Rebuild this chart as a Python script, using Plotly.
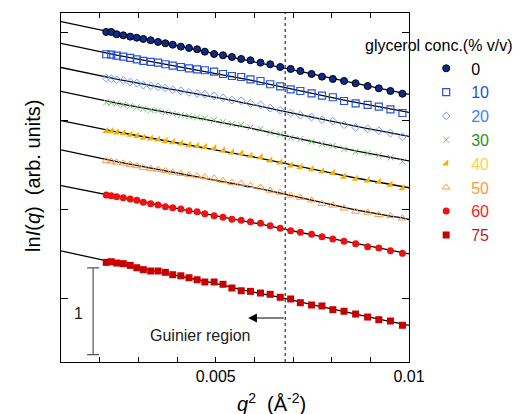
import numpy as np
import plotly.graph_objects as go

# q^2 values (Å^-2) shared by all series
Q2 = [0.00217, 0.00230, 0.00244, 0.00261, 0.00279, 0.00296, 0.00313, 0.00332, 0.00351,
      0.00370, 0.00389, 0.00410, 0.00431, 0.00452, 0.00472, 0.00496, 0.00519, 0.00542,
      0.00566, 0.00590, 0.00616, 0.00641, 0.00667, 0.00694, 0.00719, 0.00748, 0.00775,
      0.00803, 0.00832, 0.00862, 0.00893, 0.00922, 0.00952, 0.00983]

CONCENTRATIONS = ["0", "10", "20", "30", "40", "50", "60", "75"]

LN_I_0 = [3.006, 3.006, 2.980, 2.968, 2.953, 2.941, 2.927, 2.912, 2.893, 2.878, 2.862, 2.840,
          2.825, 2.810, 2.783, 2.757, 2.742, 2.723, 2.701, 2.686, 2.659, 2.641, 2.610, 2.588,
          2.565, 2.531, 2.501, 2.475, 2.452, 2.426, 2.395, 2.369, 2.339, 2.308]
LN_I_10 = [2.754, 2.750, 2.738, 2.727, 2.712, 2.697, 2.678, 2.667, 2.659, 2.641, 2.625, 2.610,
           2.595, 2.584, 2.573, 2.557, 2.531, 2.508, 2.497, 2.471, 2.452, 2.415, 2.392, 2.358,
           2.339, 2.313, 2.286, 2.268, 2.226, 2.200, 2.181, 2.162, 2.132, 2.090]
LN_I_20 = [2.483, 2.477, 2.466, 2.457, 2.440, 2.428, 2.405, 2.397, 2.386, 2.372, 2.353, 2.340,
           2.323, 2.311, 2.303, 2.283, 2.262, 2.236, 2.228, 2.198, 2.182, 2.145, 2.122, 2.090,
           2.066, 2.044, 2.014, 1.998, 1.957, 1.928, 1.912, 1.890, 1.863, 1.822]
LN_I_30 = [2.211, 2.205, 2.196, 2.182, 2.170, 2.153, 2.136, 2.122, 2.117, 2.097, 2.083, 2.066,
           2.053, 2.040, 2.031, 2.012, 1.990, 1.964, 1.955, 1.926, 1.910, 1.869, 1.849, 1.812,
           1.795, 1.766, 1.741, 1.720, 1.680, 1.652, 1.636, 1.612, 1.587, 1.540]
LN_I_40 = [1.887, 1.885, 1.871, 1.862, 1.846, 1.832, 1.812, 1.803, 1.792, 1.776, 1.760, 1.746,
           1.728, 1.719, 1.708, 1.692, 1.668, 1.644, 1.634, 1.608, 1.590, 1.555, 1.532, 1.498,
           1.480, 1.455, 1.430, 1.414, 1.372, 1.348, 1.330, 1.311, 1.282, 1.240]
LN_I_50 = [1.548, 1.544, 1.532, 1.522, 1.506, 1.492, 1.473, 1.462, 1.452, 1.436, 1.420, 1.405,
           1.390, 1.378, 1.368, 1.352, 1.327, 1.304, 1.294, 1.268, 1.250, 1.215, 1.192, 1.160,
           1.135, 1.105, 1.065, 1.047, 1.014, 0.978, 0.966, 0.940, 0.928, 0.901]
LN_I_60 = [1.164, 1.156, 1.145, 1.133, 1.119, 1.104, 1.081, 1.066, 1.051, 1.032, 1.020, 1.006,
           0.986, 0.975, 0.953, 0.930, 0.912, 0.889, 0.878, 0.862, 0.844, 0.817, 0.788, 0.760,
           0.742, 0.720, 0.693, 0.667, 0.641, 0.614, 0.580, 0.565, 0.534, 0.505]
LN_I_75 = [0.403, 0.410, 0.395, 0.388, 0.369, 0.342, 0.320, 0.305, 0.305, 0.290, 0.263, 0.251,
           0.229, 0.206, 0.181, 0.181, 0.155, 0.113, 0.082, 0.075, 0.056, 0.042, 0.008, -0.011,
           -0.053, -0.079, -0.090, -0.132, -0.150, -0.181, -0.215, -0.245, -0.260, -0.308]

SERIES = [LN_I_0, LN_I_10, LN_I_20, LN_I_30, LN_I_40, LN_I_50, LN_I_60, LN_I_75]

Q2_RANGE = [0.001, 0.01]
X_MAJOR_TICKS = [0.005, 0.01]
X_MAJOR_LABELS = ["0.005", "0.01"]
X_MINOR_TICKS = [0.002, 0.003, 0.004, 0.006, 0.007, 0.008, 0.009]
Y_TICKS = [0, 1, 2, 3]
GUINIER_LIMIT = 0.0068
SCALE_BAR_X = 0.00183
SCALE_BAR_Y = [-0.64, 0.34]

MARKER_STYLES = [
    dict(symbol="circle", color="#0b2a8c", size=7, line=dict(color="#000000", width=1)),
    dict(symbol="square-open", color="#2452e0", size=7, line=dict(width=1.2)),
    dict(symbol="diamond-open", color="#6f9cff", size=6, line=dict(width=1)),
    dict(symbol="x-thin-open", color="#6cbf6c", size=6, line=dict(width=1, color="#6cbf6c")),
    dict(symbol="triangle-se", color="#f5b000", size=7, line=dict(width=0)),
    dict(symbol="triangle-up-open", color="#ff9a40", size=7, line=dict(width=1)),
    dict(symbol="circle", color="#ee1111", size=7, line=dict(width=0)),
    dict(symbol="square", color="#c80000", size=7, line=dict(width=0)),
]
TEXT_COLORS = ["#000000", "#1a53e0", "#3d7fff", "#2a912a", "#ffd23c", "#ff9a33", "#ff1a1a", "#c41a1a"]

FONT = "Liberation Sans, Arial, Helvetica, sans-serif"

fig = go.Figure()
q2 = np.array(Q2)

# fitted lines (drawn first, under markers)
for y in SERIES:
    y = np.array(y)
    p = np.polyfit(q2, y, 1)
    fit = np.polyval(p, q2)
    ma = np.convolve(np.pad(y, 1, mode="edge"), np.ones(3) / 3, mode="valid")
    smooth = 0.5 * fit + 0.5 * ma
    xl = np.concatenate([[Q2_RANGE[0]], q2, [Q2_RANGE[1]]])
    yl = np.concatenate([[np.polyval(p, Q2_RANGE[0])], smooth, [np.polyval(p, Q2_RANGE[1])]])
    fig.add_trace(go.Scatter(x=xl, y=yl, mode="lines", line=dict(color="black", width=1.3),
                             showlegend=False, hoverinfo="skip"))

for y, c, ms, tc in zip(SERIES, CONCENTRATIONS, MARKER_STYLES, TEXT_COLORS):
    fig.add_trace(go.Scatter(x=Q2, y=y, mode="markers", marker=ms,
                             name=f'<span style="color:{tc}">{c}</span>'))

# scale bar
fig.add_trace(go.Scatter(x=[SCALE_BAR_X], y=[sum(SCALE_BAR_Y) / 2], mode="markers",
                         marker=dict(size=0.1, color="rgba(0,0,0,0)"),
                         error_y=dict(type="data", array=[(SCALE_BAR_Y[1] - SCALE_BAR_Y[0]) / 2],
                                      width=6, thickness=1.2, color="#555555"),
                         showlegend=False, hoverinfo="skip"))

fig.add_shape(type="line", x0=GUINIER_LIMIT, x1=GUINIER_LIMIT, y0=0, y1=1, xref="x", yref="paper",
              line=dict(color="#555555", width=1.5, dash="dot"))

fig.update_xaxes(range=Q2_RANGE, tickmode="array", tickvals=X_MAJOR_TICKS, ticktext=X_MAJOR_LABELS,
                 ticks="inside", ticklen=5, tickwidth=1, tickcolor="black",
                 minor=dict(tickvals=X_MINOR_TICKS, ticks="inside", ticklen=5, tickwidth=1,
                            tickcolor="black", showgrid=False),
                 showline=True, linecolor="black", linewidth=1,
                 mirror="ticks", showgrid=False, zeroline=False,
                 tickfont=dict(family=FONT, size=16, color="black"))
fig.update_yaxes(range=[-0.723, 3.22], tickmode="array", tickvals=Y_TICKS, showticklabels=False,
                 ticks="inside", ticklen=7, tickwidth=1, tickcolor="black", showline=True,
                 linecolor="black", linewidth=1, mirror="ticks", showgrid=False, zeroline=False)

annotations = [
    dict(text="ln<i>I</i>(<i>q</i>)\u00a0\u00a0(arb. units)", xref="paper", yref="paper",
         x=-0.118, y=0.533, textangle=-90, showarrow=False,
         font=dict(family=FONT, size=20, color="black")),
    dict(text="<i>q</i><sup>2</sup>\u00a0\u00a0(Å<sup>-2</sup>)", xref="paper", yref="paper",
         x=0.605, y=-0.075, yanchor="top", showarrow=False,
         font=dict(family=FONT, size=20, color="black")),
    dict(text="glycerol conc.(% v/v)", xref="paper", yref="paper", x=0.868, y=0.908,
         xanchor="left", yanchor="middle", showarrow=False,
         font=dict(family=FONT, size=16, color="black")),
    dict(text="Guinier region", xref="x", yref="y", x=0.0046, y=-0.418, showarrow=False,
         font=dict(family=FONT, size=16, color="#222222")),
    dict(text="1", xref="x", yref="y", x=0.00144, y=-0.17, showarrow=False,
         font=dict(family=FONT, size=16, color="#222222")),
    dict(text="", xref="x", yref="y", x=0.00584, y=-0.226, ax=GUINIER_LIMIT, ay=-0.226,
         axref="x", ayref="y", showarrow=True, arrowhead=2, arrowsize=1.6, arrowwidth=1.1,
         arrowcolor="black"),
]

fig.update_layout(
    width=519, height=414,
    margin=dict(l=61, r=110, t=13, b=52),
    paper_bgcolor="white", plot_bgcolor="white",
    font=dict(family=FONT, size=16, color="black"),
    annotations=annotations,
    legend=dict(x=1.035, y=0.89, xanchor="left", yanchor="top", itemwidth=40,
                font=dict(family=FONT, size=16), bgcolor="rgba(0,0,0,0)", borderwidth=0,
                itemclick=False),
    showlegend=True,
)

fig.write_html("out.html")
